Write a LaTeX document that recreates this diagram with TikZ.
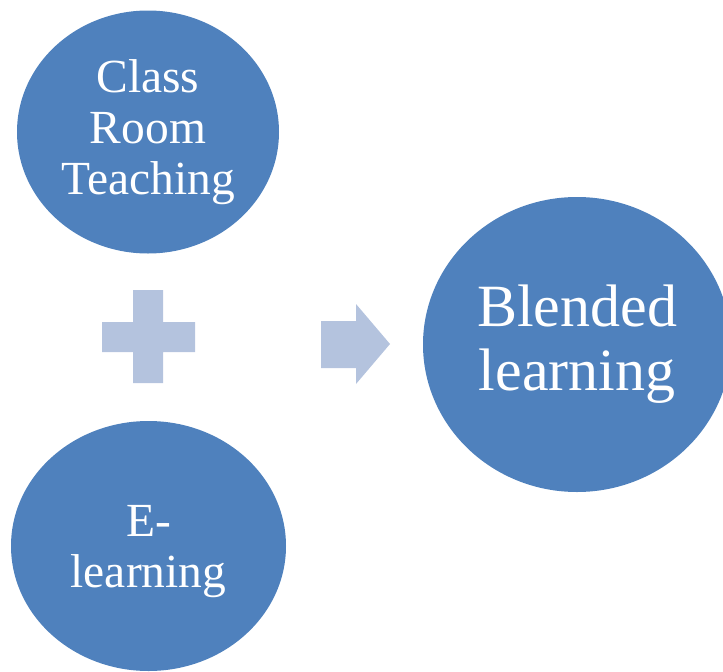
\documentclass[tikz,border=0pt]{standalone}
\usepackage{fontspec}
\setmainfont{Liberation Serif}
\newfontfamily\bubblefont{Liberation Serif}
\usetikzlibrary{shapes.geometric}

\definecolor{bubbleblue}{HTML}{4F81BD}
\definecolor{signblue}{HTML}{B4C3DE}

\tikzset{
    bubble/.style={ellipse, fill=bubbleblue, text=white, align=center, inner sep=0pt},
    sign/.style={fill=signblue}
}

\begin{document}
\begin{tikzpicture}[x=1pt,y=-1pt]

    % Page frame
    \useasboundingbox (0,0) rectangle (723,672);
    \clip (0,0) rectangle (723,672);

    % Class room teaching
    \node[bubble, minimum width=262pt, minimum height=243pt,
          font=\bubblefont\fontsize{47.5}{51}\selectfont] (classroom) at (148,132) {Class\\Room\\Teaching};

    % E-learning
    \node[bubble, minimum width=275pt, minimum height=250pt, text depth=0pt,
          font=\bubblefont\fontsize{47.5}{51}\selectfont] (elearn) at (148.5,546) {E-\\learning};

    % Blended learning
    \node[bubble, minimum width=308pt, minimum height=295pt,
          font=\bubblefont\fontsize{60}{64}\selectfont] (blended) at (577,344.5) {Blended\\learning};

    % Plus sign
    \fill[sign] (133,290) -- (163,290) -- (163,322) -- (195,322) -- (195,352) -- (163,352)
        -- (163,383) -- (133,383) -- (133,352) -- (102,352) -- (102,322) -- (133,322) -- cycle;

    % Arrow
    \fill[sign] (321,321) -- (356,321) -- (356,304) -- (390,344) -- (356,384)
        -- (356,368) -- (321,368) -- cycle;

\end{tikzpicture}
\end{document}
